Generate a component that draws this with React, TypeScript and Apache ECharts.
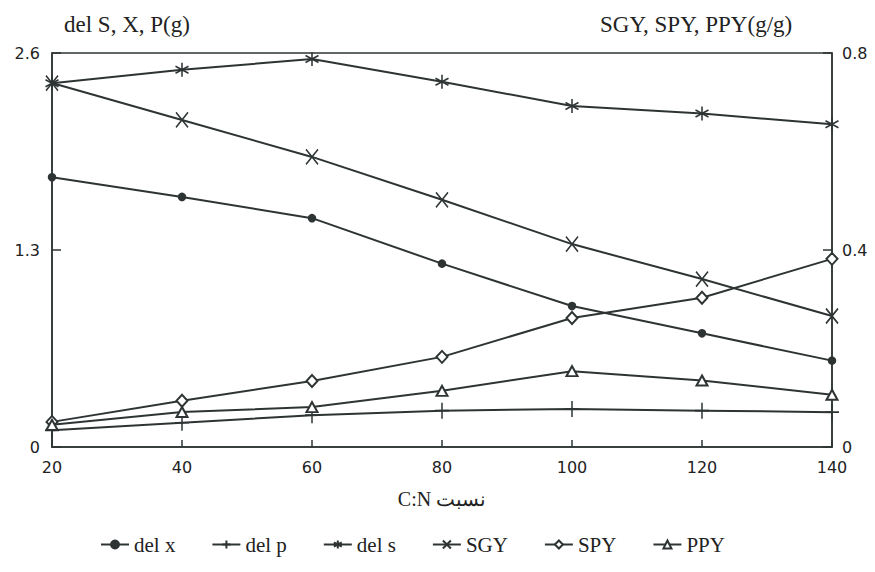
import React, { useEffect, useRef } from "react";
import * as echarts from "echarts";

const cnRatio = [20, 40, 60, 80, 100, 120, 140];
const delX = [1.78, 1.65, 1.51, 1.21, 0.93, 0.75, 0.57];
const delP = [0.11, 0.16, 0.21, 0.24, 0.25, 0.24, 0.23];
const delS = [2.4, 2.49, 2.56, 2.41, 2.25, 2.2, 2.13];
const sgy = [0.739, 0.664, 0.589, 0.502, 0.412, 0.341, 0.266];
const spy = [0.051, 0.094, 0.134, 0.183, 0.262, 0.303, 0.382];
const ppy = [0.045, 0.071, 0.081, 0.114, 0.154, 0.135, 0.106];

const leftTicks = { min: 0, max: 2.6, interval: 1.3 };
const rightTicks = { min: 0, max: 0.8, interval: 0.4 };

const INK = "#2e3434";

const PLUS = "path://M0,-10 L0,10 M-10,0 L10,0";
const ASTER = "path://M0,-10 L0,10 M-8.66,-5 L8.66,5 M-8.66,5 L8.66,-5";
const XMARK = "path://M-7,-10 L7,10 M-7,10 L7,-10";

function pairs(vals: number[]) {
  return cnRatio.map((c, i) => [c, vals[i]]);
}

export default function App() {
  const ref = useRef<HTMLDivElement>(null);
  useEffect(() => {
    if (!ref.current) return;
    const chart = echarts.init(ref.current, undefined, { renderer: "svg" });
    const base = (name: string, data: number[], axis: number, symbol: string, size: number | number[]) => ({
      name,
      type: "line",
      yAxisIndex: axis,
      data: pairs(data),
      symbol,
      symbolSize: size,
      showSymbol: true,
      lineStyle: { color: INK, width: 2 },
      itemStyle: { color: INK, borderColor: INK, borderWidth: 1.6 },
      emphasis: { disabled: true },
    });
    chart.setOption({
      animation: false,
      backgroundColor: "#ffffff",
      grid: {
        left: 52,
        right: 43,
        top: 53,
        bottom: 125,
        show: true,
        borderColor: INK,
        borderWidth: 1.5,
        backgroundColor: "transparent",
      },
      xAxis: {
        type: "value",
        min: 20,
        max: 140,
        interval: 20,
        axisLine: { show: true, lineStyle: { color: INK, width: 1.5 } },
        axisTick: { show: true, inside: true, length: 7, lineStyle: { color: INK, width: 1.5 } },
        axisLabel: { color: "#222", fontFamily: "DejaVu Sans", fontSize: 16, margin: 12 },
        splitLine: { show: false },
        name: "C:N نسبت",
        nameLocation: "middle",
        nameGap: 42,
        nameTextStyle: { color: "#222", fontFamily: "Liberation Serif", fontSize: 20 },
      },
      yAxis: [
        {
          type: "value",
          ...leftTicks,
          position: "left",
          axisLine: { show: true, lineStyle: { color: INK, width: 1.5 } },
          axisTick: { show: true, inside: true, length: 9, lineStyle: { color: INK, width: 1.5 } },
          axisLabel: { color: "#222", fontFamily: "DejaVu Sans", fontSize: 16, margin: 12 },
          splitLine: { show: false },
        },
        {
          type: "value",
          ...rightTicks,
          position: "right",
          axisLine: { show: true, lineStyle: { color: INK, width: 1.5 } },
          axisTick: { show: true, inside: true, length: 9, lineStyle: { color: INK, width: 1.5 } },
          axisLabel: { color: "#222", fontFamily: "DejaVu Sans", fontSize: 16, margin: 10 },
          splitLine: { show: false },
        },
      ],
      legend: {
        bottom: 12,
        left: 95,
        itemWidth: 28,
        itemHeight: 10,
        itemGap: 36,
        textStyle: { color: "#222", fontFamily: "Liberation Serif", fontSize: 21 },
        data: ["del x", "del p", "del s", "SGY", "SPY", "PPY"],
      },
      graphic: [
        {
          type: "text",
          left: 64,
          top: 13,
          style: { text: "del S, X, P(g)", fill: "#222", font: "23px 'Liberation Serif'" },
        },
        {
          type: "text",
          left: 600,
          top: 13,
          style: { text: "SGY, SPY, PPY(g/g)", fill: "#222", font: "23px 'Liberation Serif'" },
        },
      ],
      series: [
        base("del x", delX, 0, "circle", 7),
        base("del p", delP, 0, PLUS, [14, 16]),
        base("del s", delS, 0, ASTER, [13, 14]),
        base("SGY", sgy, 1, XMARK, [12, 15]),
        base("SPY", spy, 1, "emptyDiamond", [11, 12]),
        base("PPY", ppy, 1, "emptyTriangle", [11, 10]),
      ],
    });
    return () => chart.dispose();
  }, []);
  return <div ref={ref} style={{ width: 875, height: 572, margin: -8 }} />;
}
